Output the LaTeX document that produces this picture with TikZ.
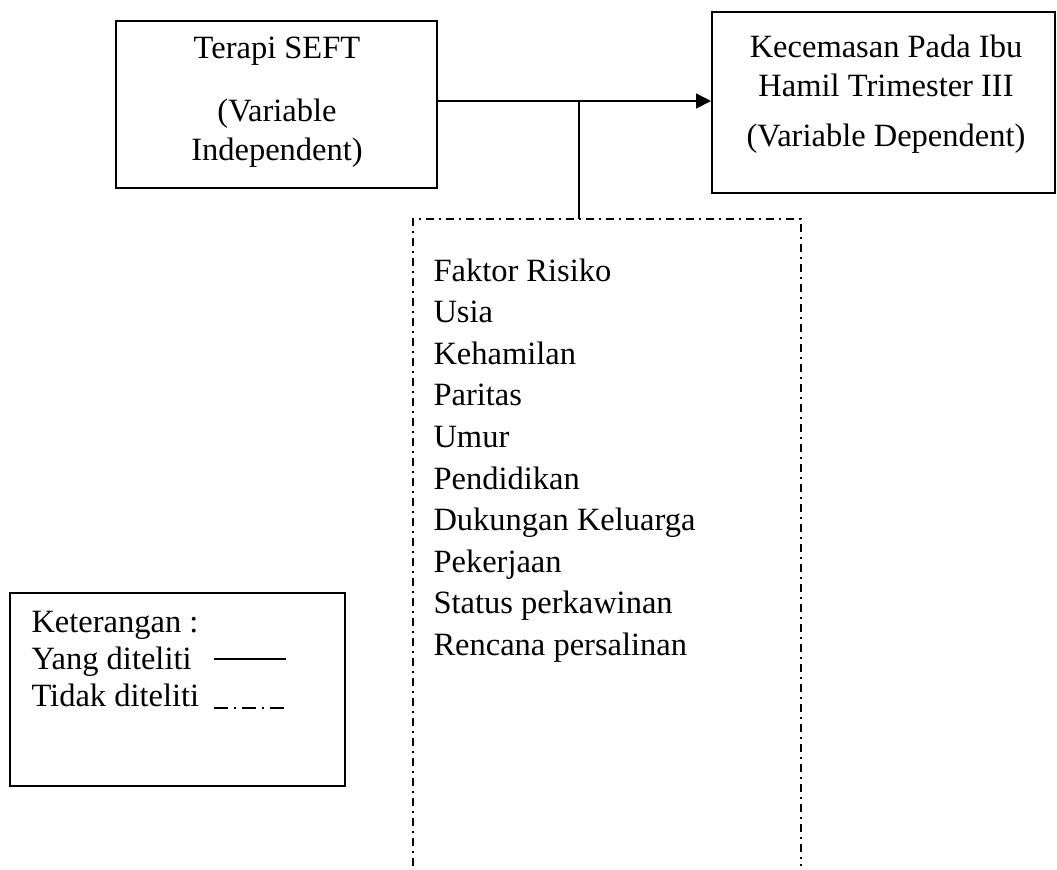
\documentclass[tikz,border=0pt]{standalone}
\usepackage{fontspec}
\setmainfont{Liberation Serif}
\usetikzlibrary{arrows.meta}
\begin{document}
\begin{tikzpicture}[x=0.4pt,y=-0.4pt,
  box/.style={draw,line width=0.8pt,inner sep=0pt},
  txt/.style={anchor=base,inner sep=0pt,font=\fontsize{13}{15.6}\selectfont},
  ltxt/.style={anchor=base west,inner sep=0pt,font=\fontsize{13}{15.6}\selectfont},
  dd/.style={line width=0.8pt,dash pattern=on 3.2pt off 2pt on 0.8pt off 2pt},
  link/.style={line width=0.6pt}]
\useasboundingbox (0,0) rectangle (1057,869);
% boxes
\node[box,minimum width=128.4pt,minimum height=66.8pt] (lbox) at (276.5,104.5) {};
\node[box,minimum width=137.2pt,minimum height=72.4pt] (rbox) at (883.5,102.5) {};
\node[txt] (l1) at (277,58) {Terapi SEFT};
\node[txt] (l2) at (277,121) {(Variable};
\node[txt] (l3) at (277,160) {Independent)};
\node[txt] (r1) at (886,57) {Kecemasan Pada Ibu};
\node[txt] (r2) at (886,96) {Hamil Trimester III};
\node[txt] (r3) at (886,146) {(Variable Dependent)};
% arrow
\coordinate (ay) at (0,101);
\coordinate (jn) at (579,101);
\draw[link,-{Triangle[length=6pt,width=6pt]}] (lbox.east |- ay) -- (rbox.west |- ay);
% dashed box
\coordinate (dtl) at (413,219);
\coordinate (dtr) at (801,219);
\coordinate (dbl) at (413,866);
\coordinate (dbr) at (801,866);
\coordinate (dtop) at (579,219);
\draw[line width=0.8pt] (jn) -- (dtop);
\draw[dd] (dbl) -- (dtl) -- (dtr) -- (dbr);
% list
\node[ltxt] (f0) at (433,281) {Faktor Risiko};
\node[ltxt] (f1) at (433,322.6) {Usia};
\node[ltxt] (f2) at (433,364.2) {Kehamilan};
\node[ltxt] (f3) at (433,405.8) {Paritas};
\node[ltxt] (f4) at (433,447.4) {Umur};
\node[ltxt] (f5) at (433,489) {Pendidikan};
\node[ltxt] (f6) at (433,530.6) {Dukungan Keluarga};
\node[ltxt] (f7) at (433,572.2) {Pekerjaan};
\node[ltxt] (f8) at (433,613.8) {Status perkawinan};
\node[ltxt] (f9) at (433,655.4) {Rencana persalinan};
% legend
\node[box,minimum width=133.6pt,minimum height=77.2pt] (leg) at (177.5,689.5) {};
\node[ltxt] (k1) at (31,632) {Keterangan :};
\node[ltxt] (k2) at (31,669) {Yang diteliti};
\node[ltxt] (k3) at (31,706) {Tidak diteliti};
\coordinate (s1) at (214,659);
\coordinate (s2) at (286,659);
\coordinate (d1) at (214,708);
\coordinate (d2) at (286,708);
\draw[line width=0.9pt] (s1) -- (s2);
\draw[line width=0.9pt,dash pattern=on 5.6pt off 2.4pt on 0.8pt off 2.4pt] (d1) -- (d2);
\end{tikzpicture}
\end{document}
